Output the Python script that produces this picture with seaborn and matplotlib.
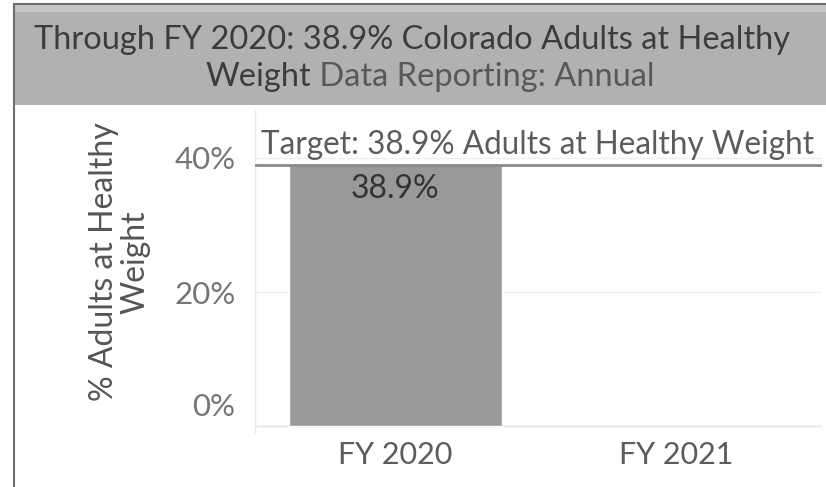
import numpy as np
import pandas as pd
import matplotlib
matplotlib.use("Agg")
import matplotlib.pyplot as plt
import matplotlib.transforms as mtransforms
from matplotlib.patches import Rectangle
from matplotlib.lines import Line2D
import seaborn as sns

# ---- data ----
categories = ["FY 2020", "FY 2021"]
values = [38.9, np.nan]
target_value = 38.9
ytick_values = [0, 20, 40]
ytick_labels = ["0%", "20%", "40%"]
title_line1 = "Through FY 2020: 38.9% Colorado Adults at Healthy"
title_line2a = "Weight"
title_line2b = " Data Reporting: Annual"
ylabel = "% Adults at Healthy\nWeight"
target_label = "Target: 38.9% Adults at Healthy Weight"
bar_label = "38.9%"

sns.set_theme(style="white")
FONT = "Lato"
plt.rcParams["font.family"] = [FONT, "DejaVu Sans"]

W, H = 826, 487
fig = plt.figure(figsize=(W / 100, H / 100), dpi=100)
fig.patch.set_facecolor("white")

def fx(px):
    return px / W

def fy(py):
    return 1 - py / H

# header band and borders
fig.patches.append(Rectangle((fx(14), fy(105)), fx(826) - fx(14), fy(5) - fy(105),
                             transform=fig.transFigure, facecolor="#b1b1b1",
                             edgecolor="none", zorder=0))
fig.patches.append(Rectangle((fx(14), fy(12)), fx(826) - fx(14), fy(5) - fy(12),
                             transform=fig.transFigure, facecolor="#c4c4c4",
                             edgecolor="none", zorder=0))
fig.lines.append(Line2D([fx(14), fx(826)], [fy(4), fy(4)], transform=fig.transFigure,
                        color="#6e6e6e", lw=1.5))
fig.lines.append(Line2D([fx(14), fx(14)], [fy(4), fy(487)], transform=fig.transFigure,
                        color="#6e6e6e", lw=1.5))

# title
TS = 23.5
fig.text(fx(412), fy(49), title_line1, ha="center", va="baseline", fontsize=TS,
         color="#3c3c3c")
t2 = fig.text(fx(205), fy(86), title_line2a, ha="left", va="baseline", fontsize=TS,
              color="#3c3c3c")
fig.canvas.draw()
bb = t2.get_window_extent()
fig.text(bb.x1 / W, fy(86), title_line2b, ha="left", va="baseline", fontsize=TS,
         color="#585858")

# axes
ax_left, ax_right, ax_top, ax_bottom = 255, 822, 110, 433
ax = fig.add_axes([fx(ax_left), fy(ax_bottom), fx(ax_right) - fx(ax_left),
                   (ax_bottom - ax_top) / H])
df = pd.DataFrame({"Year": categories, "Value": values})
sns.barplot(data=df, x="Year", y="Value", order=categories, color="#999999",
            saturation=1, width=0.76, ax=ax, zorder=2)

ax.set_xlim(-0.5, 1.52)
ax.set_ylim(-1.04, 47.16)
ax.set_xlabel("")
ax.set_ylabel("")
ax.set_yticks(ytick_values)
ax.set_yticklabels(ytick_labels)
ax.tick_params(axis="y", length=0, pad=14, labelsize=22.5, labelcolor="#767676")
ax.tick_params(axis="x", length=0, pad=6, labelsize=22, labelcolor="#5c5c5c")
for s in ["top", "right", "bottom"]:
    ax.spines[s].set_visible(False)
ax.spines["left"].set_color("#e8e8e8")
ax.spines["left"].set_linewidth(1)
ax.yaxis.grid(True, color="#efefef", lw=1)
ax.set_axisbelow(True)
ax.axhline(0, color="#e6e6e6", lw=1, zorder=1)

# shift the 0% label up like the reference
for lab in ax.get_yticklabels():
    if lab.get_text() == "0%":
        lab.set_transform(lab.get_transform() +
                          mtransforms.ScaledTranslation(0, 22 / 100, fig.dpi_scale_trans))

# target reference line
ax.axhline(target_value, color="#8a8a8a", lw=2, zorder=3)
ax.annotate(target_label, xy=(-0.477, target_value), xytext=(0, 8),
            textcoords="offset points", ha="left", va="baseline", fontsize=22.7,
            color="#5c5c5c", zorder=4)

# bar label
ax.annotate(bar_label, xy=(0, values[0]), xytext=(0, -23.5), textcoords="offset points",
            ha="center", va="baseline", fontsize=23, color="#333333", zorder=4)

# y label
fig.text(fx(120), fy(262), ylabel, rotation=90, ha="center", va="center",
         multialignment="center", fontsize=23, color="#555555", linespacing=1.05)

fig.savefig("out.png", dpi=100)
